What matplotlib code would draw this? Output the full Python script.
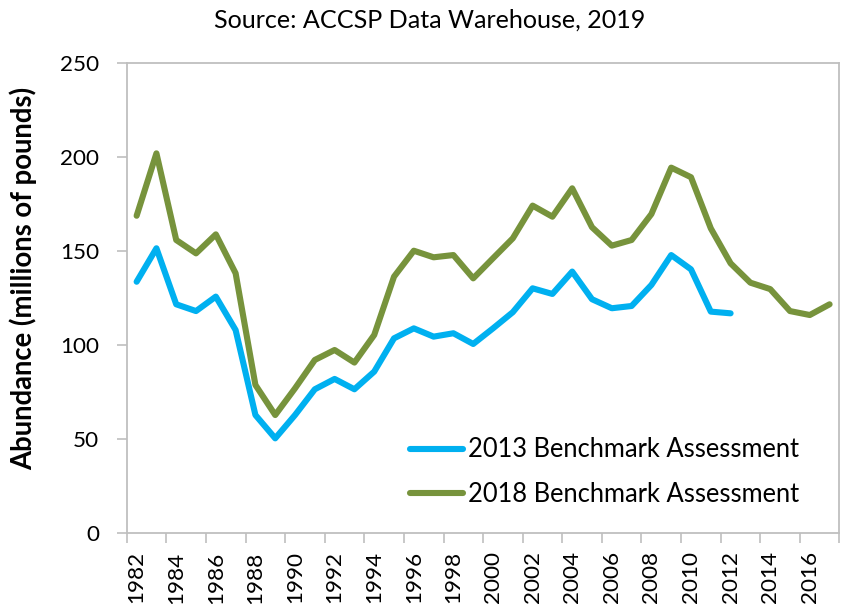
import matplotlib
matplotlib.use("Agg")
import matplotlib.pyplot as plt
import numpy as np

plt.rcParams['font.family'] = ['Lato', 'DejaVu Sans']

# data
years_2018 = list(range(1982, 2018))
abund_2018 = [168.9, 202.1, 156.0, 148.9, 159.0, 138.3, 78.9, 62.9, 77.1, 92.2,
              97.5, 90.8, 105.5, 136.5, 150.3, 146.8, 148.0, 135.6, 146.3, 156.9,
              174.3, 168.4, 183.5, 162.8, 153.0, 156.0, 169.8, 194.5, 189.4, 162.2,
              143.6, 133.3, 129.9, 118.2, 116.1, 121.8]

years_2013 = list(range(1982, 2013))
abund_2013 = [133.8, 151.6, 121.8, 118.2, 125.9, 108.1, 62.9, 50.5, 62.9, 76.6,
              82.1, 76.6, 86.0, 103.7, 109.0, 104.6, 106.4, 100.7, 109.0, 117.6,
              130.3, 127.3, 139.2, 124.5, 119.7, 120.9, 132.1, 148.0, 140.4, 117.9,
              117.0]

tick_years = list(range(1982, 2017, 2))
y_ticks = [0, 50, 100, 150, 200, 250]

blue = '#00B0F0'
green = '#77933C'
grey = '#BFBFBF'

fig = plt.figure(figsize=(8.46, 6.04), dpi=100)
ax = fig.add_axes([0.1498, 0.1171, 0.8425, 0.7781])

ax.plot(years_2013, abund_2013, color=blue, lw=4.4, solid_joinstyle='round',
        solid_capstyle='round', label='2013 Benchmark Assessment')
ax.plot(years_2018, abund_2018, color=green, lw=4.4, solid_joinstyle='round',
        solid_capstyle='round', label='2018 Benchmark Assessment')

ax.set_xlim(1981.5, 2017.5)
ax.set_ylim(0, 250)

# category-style axis: marks between categories, labels on the category
ax.set_xticks([y - 0.5 for y in tick_years] + [2017.5])
ax.set_xticklabels([])
ax.set_xticks(tick_years, minor=True)
ax.set_xticklabels([str(y) for y in tick_years], minor=True, rotation=90,
                   fontsize=16.2)
ax.tick_params(axis='x', which='major', length=7, width=1.2, color=grey,
               direction='out')
ax.tick_params(axis='x', which='minor', length=0, pad=13)

ax.set_yticks(y_ticks)
ax.set_yticklabels([str(v) for v in y_ticks], fontsize=16.2)
ax.tick_params(axis='y', length=7, width=1.2, color=grey, pad=13)

for s in ax.spines.values():
    s.set_color(grey)
    s.set_linewidth(1.3)

ax.set_ylabel('Abundance (millions of pounds)', fontsize=19.8, fontweight='bold')
ax.yaxis.set_label_coords(-0.126, 0.542)
fig.text(0.508, 0.967, 'Source: ACCSP Data Warehouse, 2019', ha='center',
         va='center', fontsize=18.1)

leg = ax.legend(loc='center left', bbox_to_anchor=(0.397, 0.13), frameon=False,
                fontsize=18.4, handlelength=2.07, handletextpad=0.2,
                labelspacing=0.76, borderaxespad=0, borderpad=0)
for line in leg.get_lines():
    line.set_linewidth(4.4)

fig.savefig('out.png', dpi=100)
